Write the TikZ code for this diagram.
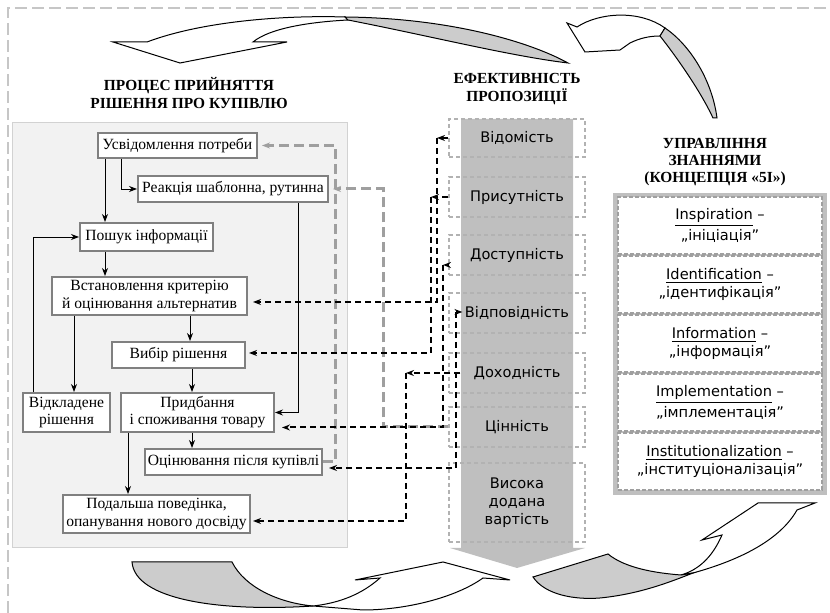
\documentclass[tikz,border=0pt]{standalone}
\usepackage{fontspec}
\setmainfont{Liberation Serif}
\newfontfamily\versans{DejaVu Sans}
\usetikzlibrary{arrows.meta}
\begin{document}
\begin{tikzpicture}[x=0.5pt,y=-0.5pt,>={Stealth[length=4pt,width=3pt]},
  procbox/.style={draw=gray,line width=1pt,fill=white,align=center,inner sep=1pt,font=\fontsize{7.8}{8.6}\selectfont},
  effbox/.style={draw=gray!60,dash pattern=on 2pt off 1.5pt,line width=0.6pt,minimum width=68pt,minimum height=20pt,align=center,font=\versans\fontsize{7.3}{9}\selectfont},
  kbox/.style={draw=gray!75,dash pattern=on 2pt off 1pt,line width=0.8pt,fill=white,minimum width=102pt,minimum height=28.5pt,align=center,font=\versans\fontsize{7.3}{9}\selectfont},
  ttl/.style={align=center,font=\bfseries\fontsize{7.7}{8.7}\selectfont},
  glink/.style={draw=gray!75,line width=1.5pt,dash pattern=on 5pt off 2.5pt},
  blink/.style={line width=1pt,dash pattern=on 3pt off 2pt},
  band/.style={draw=black,line width=0.5pt,fill=white},
  bandback/.style={draw=black,line width=0.5pt,fill=gray!40}]
\useasboundingbox (0,0) rectangle (830,613);
\draw[gray!45,line width=0.8pt,dash pattern=on 6pt off 2.5pt] (8,613) -- (8,8) -- (830,8);
\draw[gray!35,fill=gray!10] (12,122) rectangle (347,547);
% curved arrows of the cycle
\draw[band] (113,42) -- (147,42) .. controls (200,22) and (280,15) .. (345,17) -- (348,20) .. controls (310,22) and (270,28) .. (253,42) -- (287,42) -- (180,63) -- cycle;
\draw[bandback] (345,17) .. controls (450,18) and (530,42) .. (568,63) .. controls (510,56) and (430,36) .. (348,20) -- cycle;
\draw[band] (567,23) -- (577,27) .. controls (600,12) and (640,10) .. (665,28) -- (660,36) .. controls (650,36) and (640,38) .. (630,43) -- (620,50) -- (585,52) -- cycle;
\draw[bandback] (665,28) .. controls (690,45) and (712,80) .. (717,118) -- (713,118) .. controls (700,90) and (675,55) .. (660,36) -- cycle;
\draw[band] (702,540) -- (722,535) .. controls (712,558) and (698,570) .. (681,575) -- (693,573) .. controls (740,560) and (780,540) .. (797,510) -- (815,503) -- (758,503) -- cycle;
\draw[bandback] (681,575) .. controls (655,573) and (625,568) .. (608,554) -- (533,577) .. controls (545,595) and (575,600) .. (600,598) .. controls (640,594) and (670,582) .. (693,573) -- cycle;
\draw[band] (355,580) -- (380,578) .. controls (362,594) and (340,603) .. (313,606) -- (363,610) .. controls (405,610) and (455,598) .. (483,578) -- (510,580) -- (443,562) -- cycle;
\draw[bandback] (132,562) -- (232,562) .. controls (245,588) and (280,603) .. (313,606) .. controls (220,612) and (135,600) .. (132,562) -- cycle;
% titles
\node[ttl] (t1) at (189,93) {ПРОЦЕС ПРИЙНЯТТЯ\\РІШЕННЯ ПРО КУПІВЛЮ};
\node[ttl] (t2) at (517,89) {ЕФЕКТИВНІСТЬ\\ПРОПОЗИЦІЇ};
\node[ttl] (t3) at (715,162) {УПРАВЛІННЯ\\ЗНАННЯМИ\\(КОНЦЕПЦІЯ «5І»)};
% process of the purchase decision
\node[procbox,minimum width=79.5pt,minimum height=12.5pt] (a) at (177.5,145.5) {Усвідомлення потреби};
\node[procbox,minimum width=95pt,minimum height=13pt] (b) at (233,189) {Реакція шаблонна, рутинна};
\node[procbox,minimum width=66.5pt,minimum height=14pt] (c) at (146.5,237) {Пошук інформації};
\node[procbox,minimum width=97.5pt,minimum height=19pt] (d) at (149.5,296) {Встановлення критерію\\й оцінювання альтернатив};
\node[procbox,minimum width=66.5pt,minimum height=13pt] (e) at (178.5,355) {Вибір рішення};
\node[procbox,minimum width=76.5pt,minimum height=19.5pt] (f) at (197.5,412.5) {Придбання\\і споживання товару};
\node[procbox,minimum width=43.5pt,minimum height=19.5pt] (g) at (66.5,412.5) {Відкладене\\рішення};
\node[procbox,minimum width=88.5pt,minimum height=13pt] (h) at (233.5,462) {Оцінювання після купівлі};
\node[procbox,minimum width=93.5pt,minimum height=19pt] (i) at (156.5,514) {Подальша поведінка,\\опанування нового досвіду};
\draw[->] (a.south -| 105,0) -- (c.north -| 105,0);
\draw[->] (a.south -| 121,0) |- (b.west);
\draw[->] (b.south -| 298,0) |- (f.east);
\draw[->] (c.south -| 105,0) -- (d.north -| 105,0);
\draw[->] (d.south -| 190,0) -- (e.north -| 190,0);
\draw[->] (d.south -| 74,0) -- (g.north -| 74,0);
\draw[->] (e.south -| 192,0) -- (f.north -| 192,0);
\draw[->] (g.north -| 33,0) |- (c.west);
\draw[->] (f.south -| 192,0) -- (h.north -| 192,0);
\draw[->] (f.south -| 128,0) -- (i.north -| 128,0);
% efficiency of the offer
\fill[gray!50] (461,119) -- (573,119) -- (573,548) -- (585,548) -- (517,568) -- (450,548) -- (461,548) -- cycle;
\node[effbox,minimum height=19pt] (v1) at (517,138) {Відомість};
\node[effbox] (v2) at (517,197) {Присутність};
\node[effbox] (v3) at (517,255) {Доступність};
\node[effbox] (v4) at (517,313) {Відповідність};
\node[effbox] (v5) at (517,373) {Доходність};
\node[effbox] (v6) at (517,427) {Цінність};
\node[effbox,minimum height=39.5pt] (v7) at (517,502.5) {Висока\\додана\\вартість};
% knowledge management
\fill[gray!50] (613,193) rectangle (827,495);
\node[kbox] (k1) at (720,225.5) {\underline{Inspiration} –\\„ініціація”};
\node[kbox] (k2) at (720,284.5) {\underline{Identification} –\\„ідентифікація”};
\node[kbox] (k3) at (720,343.5) {\underline{Information} –\\„інформація”};
\node[kbox] (k4) at (720,402.5) {\underline{Implementation} –\\„імплементація”};
\node[kbox] (k5) at (720,461.5) {\underline{Institutionalization} –\\„інституціоналізація”};
% feedback links
\draw[glink,->] (h.east) -- (h.east -| 335,0) |- ([xshift=2pt]a.east);
\draw[glink,->] (v6.west) -- (v6.west -| 383,0) |- ([xshift=2pt]b.east);
\coordinate (ka) at (437,138);
\coordinate (kb) at (431,197);
\coordinate (kc) at (443,265);
\coordinate (kd) at (456,312);
\coordinate (ke) at (406,373);
\draw[blink,->] (v1.west) -- (ka);
\draw[blink,->] (ka) |- ([shift={(5,6)}]d.east);
\draw[blink,->] (v2.west) -- (kb);
\draw[blink,->] (kb) |- ([shift={(3,-2)}]e.east);
\draw[blink,->] (v3.west |- kc) -- (kc);
\draw[blink,->] (kc) |- ([shift={(7,15)}]f.east);
\draw[blink,->] (kd) -- ([shift={(14,-1)}]v4.west);
\draw[blink,->] (kd) |- ([shift={(6,6)}]h.east);
\draw[blink,->] ([shift={(12,0)}]v5.west) -- (ke);
\draw[blink,->] (ke) |- ([shift={(2,7)}]i.east);
\end{tikzpicture}
\end{document}
